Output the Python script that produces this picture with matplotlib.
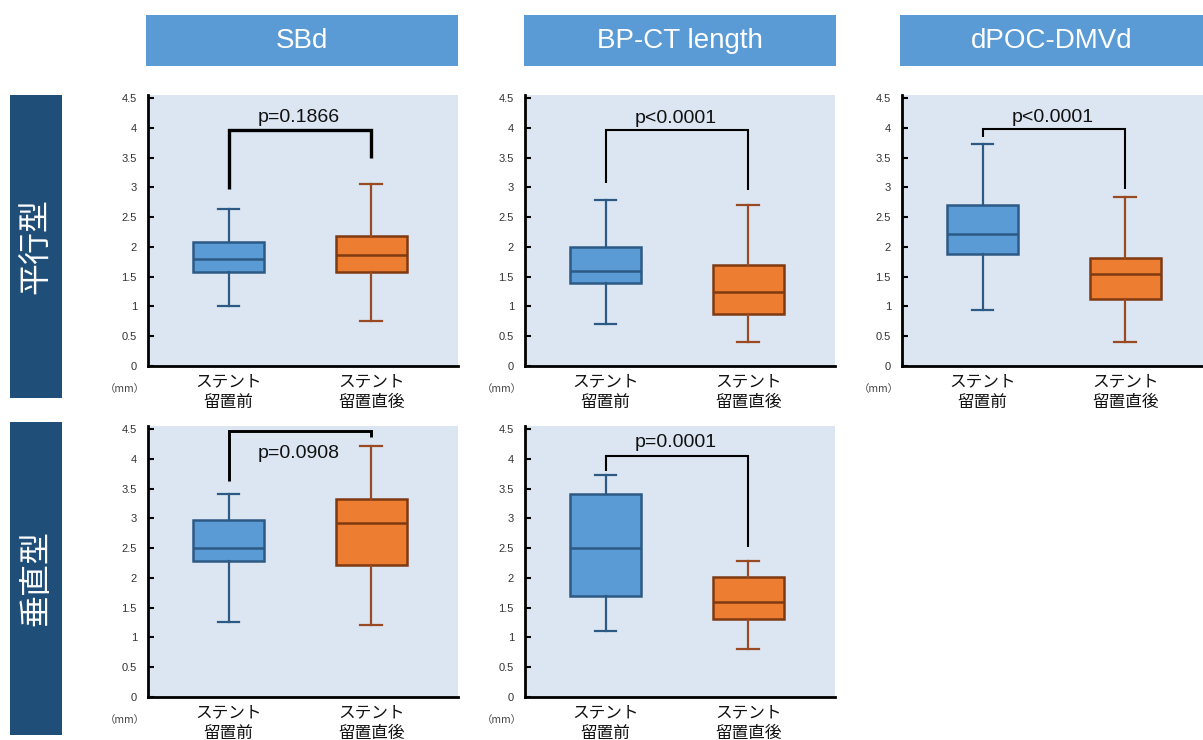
import matplotlib
matplotlib.use("Agg")
import matplotlib.pyplot as plt
from matplotlib.patches import Rectangle

plt.rcParams['font.family'] = ['Liberation Sans', 'Noto Sans CJK JP', 'DejaVu Sans']

# ---------------- data ----------------
col_titles = ["SBd", "BP-CT length", "dPOC-DMVd"]
row_titles = ["平行型", "垂直型"]
categories = ["ステント\n留置前", "ステント\n留置直後"]

# each: [whislo, q1, median, q3, whishi] for (before, after)
sbd_par_before = [1.00, 1.57, 1.80, 2.08, 2.63]
sbd_par_after = [0.75, 1.57, 1.87, 2.18, 3.05]
bpct_par_before = [0.70, 1.40, 1.60, 2.00, 2.79]
bpct_par_after = [0.40, 0.88, 1.25, 1.70, 2.70]
dpoc_par_before = [0.94, 1.88, 2.22, 2.70, 3.72]
dpoc_par_after = [0.40, 1.13, 1.54, 1.82, 2.83]
sbd_ver_before = [1.26, 2.28, 2.50, 2.97, 3.41]
sbd_ver_after = [1.21, 2.22, 2.92, 3.32, 4.22]
bpct_ver_before = [1.10, 1.70, 2.51, 3.41, 3.72]
bpct_ver_after = [0.81, 1.31, 1.60, 2.01, 2.29]

p_labels = ["p=0.1866", "p<0.0001", "p<0.0001", "p=0.0908", "p=0.0001"]
p_label_y = [4.17, 4.16, 4.17, 4.09, 4.28]
# bracket: [left leg bottom, top, right leg bottom]
brackets = [[2.97, 3.97, 3.49],
            [3.08, 3.97, 2.96],
            [3.85, 3.98, 2.97],
            [3.63, 4.46, 4.37],
            [3.80, 4.04, 2.52]]
bracket_lw = [2.4, 1.5, 1.5, 2.1, 1.5]

panel_data = [(sbd_par_before, sbd_par_after),
              (bpct_par_before, bpct_par_after),
              (dpoc_par_before, dpoc_par_after),
              (sbd_ver_before, sbd_ver_after),
              (bpct_ver_before, bpct_ver_after)]
panel_grid = [(0, 0), (0, 1), (0, 2), (1, 0), (1, 1)]

yticks = [0, 0.5, 1, 1.5, 2, 2.5, 3, 3.5, 4, 4.5]
ytick_labels = ["0", "0.5", "1", "1.5", "2", "2.5", "3", "3.5", "4", "4.5"]

# ---------------- styles ----------------
W, H = 1203, 740
BG = "#dce6f2"
BLUE_FILL, BLUE_EDGE = "#5b9bd5", "#2c5a85"
ORANGE_FILL, ORANGE_EDGE = "#ed7d31", "#7f3a12"
ORANGE_WHISK = "#9a4a22"
HEADER = "#5b9bd5"
NAVY = "#1f4e79"

fig = plt.figure(figsize=(W / 100, H / 100), dpi=100)

def fx(px):
    return px / W

def fy(py):
    return 1 - py / H

# header boxes
header_boxes = [(146, 458), (524, 836), (900, 1203)]
for (x0, x1), t in zip(header_boxes, col_titles):
    fig.patches.append(Rectangle((fx(x0), fy(66)), fx(x1 - x0), (66 - 15) / H,
                                 transform=fig.transFigure, facecolor=HEADER,
                                 edgecolor="none"))
    fig.text(fx((x0 + x1) / 2), fy(40.5), t, color="white", fontsize=20,
             ha="center", va="center")

# row label boxes
row_boxes = [(95, 398), (422, 735)]
for (y0, y1), t in zip(row_boxes, row_titles):
    fig.patches.append(Rectangle((fx(10), fy(y1)), fx(52), (y1 - y0) / H,
                                 transform=fig.transFigure, facecolor=NAVY,
                                 edgecolor="none"))
    fig.text(fx(36), fy((y0 + y1) / 2), t, color="white", fontsize=23,
             ha="center", va="center", rotation=90,
             family=['Noto Sans CJK JP', 'DejaVu Sans'])

col_left = [148, 525, 902]
col_width = [310, 310, 301]
row_zero = [366, 697]
ax_h_px = 271
px_per_unit = 310 / 2.174
x_lo = 0.435

for i, ((r, c), (before, after)) in enumerate(zip(panel_grid, panel_data)):
    left = col_left[c]
    wpx = col_width[c]
    ax = fig.add_axes([fx(left), fy(row_zero[r]), fx(wpx), ax_h_px / H])
    ax.set_facecolor(BG)
    stats = []
    for vals in (before, after):
        stats.append(dict(whislo=vals[0], q1=vals[1], med=vals[2],
                          q3=vals[3], whishi=vals[4], fliers=[]))
    bp = ax.bxp(stats, positions=[1, 2], widths=0.5, capwidths=0.15,
                patch_artist=True, showfliers=False)
    fills = [BLUE_FILL, ORANGE_FILL]
    edges = [BLUE_EDGE, ORANGE_EDGE]
    whisk = [BLUE_EDGE, ORANGE_WHISK]
    for k in range(2):
        bp['boxes'][k].set_facecolor(fills[k])
        bp['boxes'][k].set_edgecolor(edges[k])
        bp['boxes'][k].set_linewidth(1.8)
        bp['medians'][k].set_color(edges[k])
        bp['medians'][k].set_linewidth(1.8)
        for ln in bp['whiskers'][2 * k:2 * k + 2] + bp['caps'][2 * k:2 * k + 2]:
            ln.set_color(whisk[k])
            ln.set_linewidth(1.6)

    # significance bracket
    b = brackets[i]
    ax.plot([1, 1, 2, 2], [b[0], b[1], b[1], b[2]], color="black",
            lw=bracket_lw[i], solid_capstyle="butt", solid_joinstyle="miter")
    ax.text(1.49, p_label_y[i], p_labels[i], ha="center", va="center",
            fontsize=14, color="#111111")

    ax.set_xlim(x_lo, x_lo + wpx / px_per_unit)
    ax.set_ylim(0, 4.55)
    ax.set_yticks(yticks, ytick_labels)
    ax.set_xticks([1, 2], categories)
    ax.tick_params(axis="x", length=0, pad=5, labelsize=12)
    ax.tick_params(axis="y", direction="in", length=4, width=1.5,
                   labelsize=8, labelcolor="#333333", pad=8)
    for lab in ax.get_xticklabels():
        lab.set_family(['Noto Sans CJK JP', 'DejaVu Sans'])
        lab.set_color("#111111")
        lab.set_linespacing(1.3)
    for s in ["top", "right"]:
        ax.spines[s].set_visible(False)
    for s in ["left", "bottom"]:
        ax.spines[s].set_linewidth(2)
        ax.spines[s].set_color("black")

    # unit label
    fig.text(fx(left - 23), fy(row_zero[r] + 23), "（mm）", fontsize=7.5,
             ha="center", va="center", color="#444444",
             family=['Noto Sans CJK JP', 'DejaVu Sans'])

fig.savefig("out.png", dpi=100, facecolor="white")
